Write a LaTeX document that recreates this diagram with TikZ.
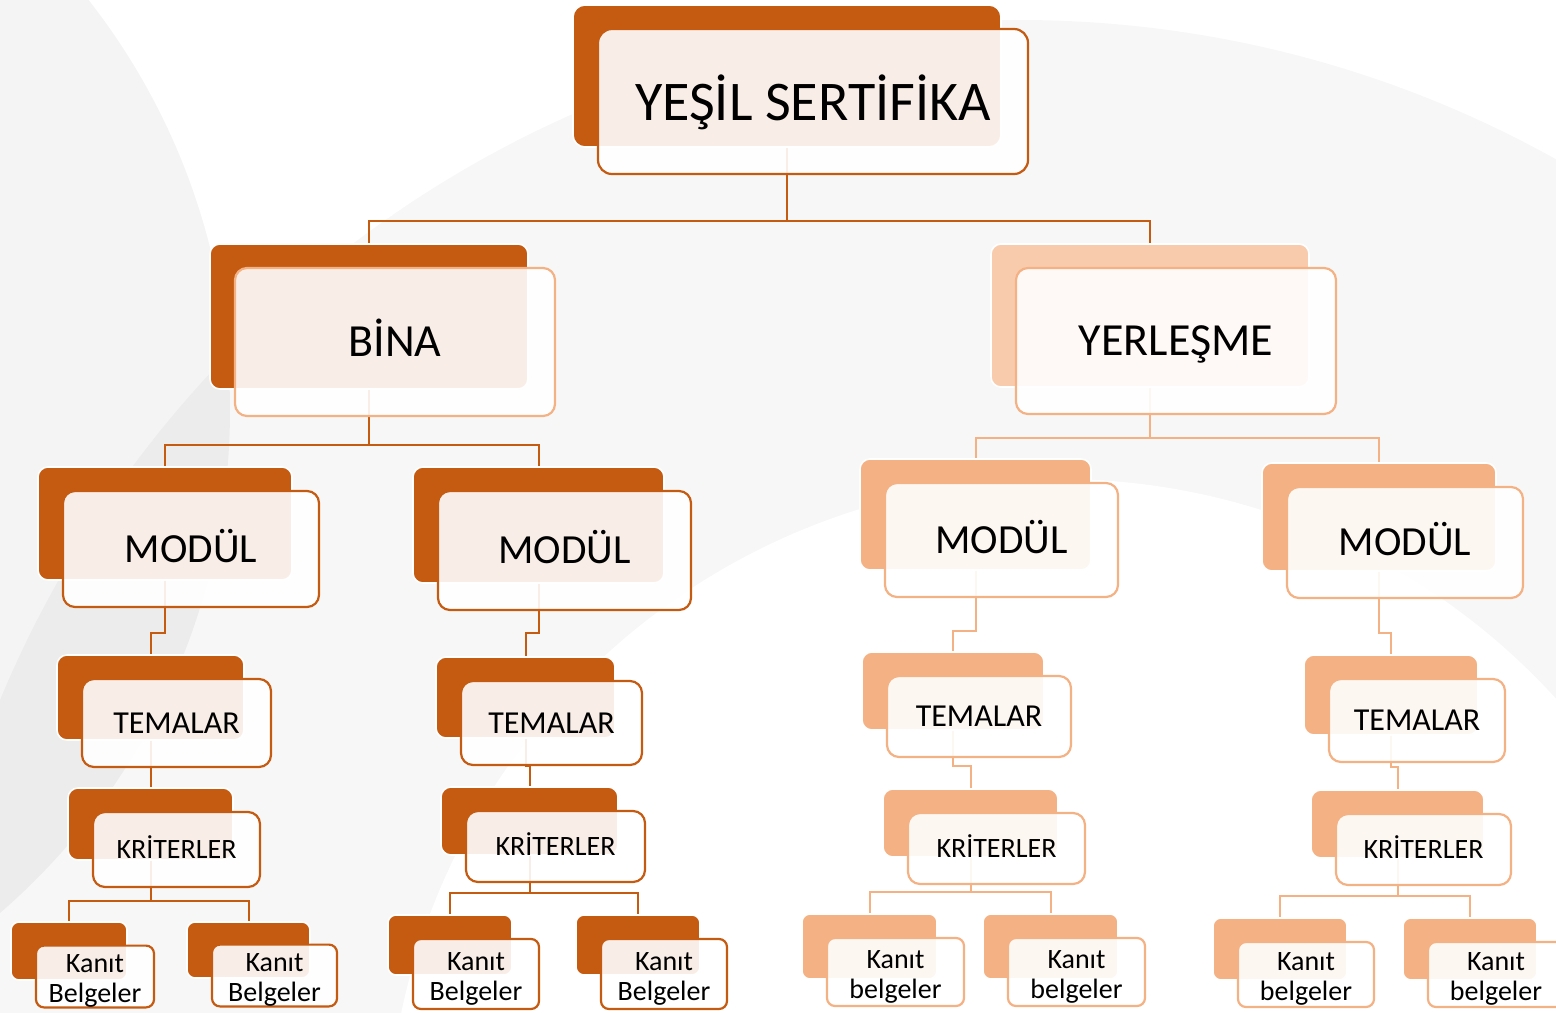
\documentclass[tikz,border=0pt]{standalone}
\usepackage{fontspec}
\setmainfont{Carlito}
\definecolor{koyu}{HTML}{C55A11}
\definecolor{acik}{HTML}{F4B183}
\definecolor{soluk}{HTML}{F8CBAD}
\tikzset{
  arkakutu/.style={rectangle, rounded corners=5pt, draw=white, line width=0.8pt, inner sep=0pt},
  onkutu/.style={rectangle, rounded corners=6pt, fill=white, fill opacity=0.9, text opacity=1,
                 line width=1.1pt, inner sep=0pt, align=center, text=black},
  conn/.style={line width=1pt},
  ff0/.style={font=\fontsize{28pt}{32pt}\selectfont, text height=18.6pt, text depth=0pt},
  ff1/.style={font=\fontsize{23pt}{27pt}\selectfont, text height=14.7pt, text depth=0pt},
  ff2/.style={font=\fontsize{20.7pt}{24pt}\selectfont, text height=13.2pt, text depth=0pt},
  ff3/.style={font=\fontsize{16pt}{19pt}\selectfont, text height=10.2pt, text depth=0pt},
  ff4/.style={font=\fontsize{14pt}{17pt}\selectfont, text height=9pt, text depth=0pt},
  ff5/.style={font=\fontsize{14pt}{15pt}\selectfont, rounded corners=4pt},
}
\newcommand{\ustpay}{\rule{0pt}{13.5pt}}
% back box: name, x1, y1, x2, y2, style
\newcommand{\arkaciz}[6]{%
  \node[arkakutu,#6,minimum width={(#4-#2)*0.5pt},minimum height={(#5-#3)*0.5pt}]
    (#1B) at ({(#2+#4)/2},{(#3+#5)/2}) {};}
% front box: name, x1, y1, x2, y2 (of the back box), style, text
\newcommand{\onciz}[7]{%
  \node[onkutu,minimum width={(#4-#2+2)*0.5pt},minimum height={(#5-#3+3)*0.5pt},#6]
    (#1F) at ({(#2+#4)/2+26},{(#3+#5)/2+25.5}) {#7};}
% elbow connector: parent, drop, child, colour
\newcommand{\baglan}[4]{\draw[conn,#4] (#1B.south) -- ++(0,#2) -| (#3B.north);}
\begin{document}
\begin{tikzpicture}[x=0.5pt,y=-0.5pt]
\useasboundingbox (0,0) rectangle (1556,1012);
\clip (0,0) rectangle (1556,1012);
% background
\fill[white] (0,0) rectangle (1556,1012);
\fill[black, opacity=0.043] (-435,410) circle[radius=665];
\fill[black, opacity=0.03] (1019,1123) circle[radius=1103];
\fill[white] (1059,1151) circle[radius=672];

% back boxes
\arkaciz{yesil}{573}{5}{1001}{147}{fill=koyu, rounded corners=6pt}
\arkaciz{bina}{210}{244}{528}{389}{fill=koyu}
\arkaciz{yerl}{991}{244}{1309}{387}{fill=soluk}
\arkaciz{ma}{38}{467}{292}{580}{fill=koyu}
\arkaciz{mb}{413}{467}{664}{583}{fill=koyu}
\arkaciz{mc}{860}{459}{1091}{570}{fill=acik}
\arkaciz{md}{1262}{463}{1496}{571}{fill=acik}
\arkaciz{ta}{57}{655}{244}{740}{fill=koyu}
\arkaciz{tb}{436}{657}{615}{738}{fill=koyu}
\arkaciz{tc}{862}{652}{1044}{730}{fill=acik}
\arkaciz{td}{1304}{655}{1478}{735}{fill=acik}
\arkaciz{ka}{68}{788}{233}{860}{fill=koyu}
\arkaciz{kb}{441}{787}{618}{855}{fill=koyu}
\arkaciz{kc}{883}{789}{1058}{857}{fill=acik}
\arkaciz{kd}{1311}{790}{1484}{858}{fill=acik}
\arkaciz{ea}{11}{922}{127}{980}{fill=koyu, rounded corners=4pt}
\arkaciz{eb}{187}{922}{310}{978}{fill=koyu, rounded corners=4pt}
\arkaciz{ec}{388}{915}{512}{975}{fill=koyu, rounded corners=4pt}
\arkaciz{ed}{576}{915}{700}{975}{fill=koyu, rounded corners=4pt}
\arkaciz{ee}{802}{914}{937}{979}{fill=acik, rounded corners=4pt}
\arkaciz{ef}{983}{914}{1118}{979}{fill=acik, rounded corners=4pt}
\arkaciz{eg}{1213}{918}{1347}{980}{fill=acik, rounded corners=4pt}
\arkaciz{eh}{1403}{918}{1537}{980}{fill=acik, rounded corners=4pt}

% connectors
\draw[conn,koyu] (yesilB.south) -- ++(0,73) coordinate (j0) -| (binaB.north);
\draw[conn,koyu] (j0) -| (yerlB.north);
\draw[conn,koyu] (binaB.south) -- ++(0,55) coordinate (j1) -| (maB.north);
\draw[conn,koyu] (j1) -| (mbB.north);
\draw[conn,acik] (yerlB.south) -- ++(0,50) coordinate (j2) -| (mcB.north);
\draw[conn,acik] (j2) -| (mdB.north);
\baglan{ma}{52}{ta}{koyu}
\baglan{mb}{49}{tb}{koyu}
\baglan{mc}{60}{tc}{acik}
\baglan{md}{61}{td}{acik}
\baglan{ta}{24}{ka}{koyu}
\baglan{tb}{27}{kb}{koyu}
\baglan{tc}{35}{kc}{acik}
\baglan{td}{31}{kd}{acik}
\draw[conn,koyu] (kaB.south) -- ++(0,40) coordinate (j3) -| (eaB.north);
\draw[conn,koyu] (j3) -| (ebB.north);
\draw[conn,koyu] (kbB.south) -- ++(0,37) coordinate (j4) -| (ecB.north);
\draw[conn,koyu] (j4) -| (edB.north);
\draw[conn,acik] (kcB.south) -- ++(0,34) coordinate (j5) -| (eeB.north);
\draw[conn,acik] (j5) -| (efB.north);
\draw[conn,acik] (kdB.south) -- ++(0,37) coordinate (j6) -| (egB.north);
\draw[conn,acik] (j6) -| (ehB.north);

% front boxes
\onciz{yesil}{573}{5}{1001}{147}{draw=koyu,ff0,rounded corners=7pt}{YEŞİL SERTİFİKA}
\onciz{bina}{210}{244}{528}{389}{draw=acik,ff1}{BİNA}
\onciz{yerl}{991}{244}{1309}{387}{draw=acik,ff1}{YERLEŞME}
\onciz{ma}{38}{467}{292}{580}{draw=koyu,ff2}{MODÜL}
\onciz{mb}{413}{467}{664}{583}{draw=koyu,ff2}{MODÜL}
\onciz{mc}{860}{459}{1091}{570}{draw=acik,ff2}{MODÜL}
\onciz{md}{1262}{463}{1496}{571}{draw=acik,ff2}{MODÜL}
\onciz{ta}{57}{655}{244}{740}{draw=koyu,ff3}{TEMALAR}
\onciz{tb}{436}{657}{615}{738}{draw=koyu,ff3}{TEMALAR}
\onciz{tc}{862}{652}{1044}{730}{draw=acik,ff3}{TEMALAR}
\onciz{td}{1304}{655}{1478}{735}{draw=acik,ff3}{TEMALAR}
\onciz{ka}{68}{788}{233}{860}{draw=koyu,ff4}{KRİTERLER}
\onciz{kb}{441}{787}{618}{855}{draw=koyu,ff4}{KRİTERLER}
\onciz{kc}{883}{789}{1058}{857}{draw=acik,ff4}{KRİTERLER}
\onciz{kd}{1311}{790}{1484}{858}{draw=acik,ff4}{KRİTERLER}
\onciz{ea}{11}{922}{127}{980}{draw=koyu,ff5}{\ustpay Kanıt\\Belgeler}
\onciz{eb}{187}{922}{310}{978}{draw=koyu,ff5}{\ustpay Kanıt\\Belgeler}
\onciz{ec}{388}{915}{512}{975}{draw=koyu,ff5,minimum height=35pt,yshift=-1.75pt}{\ustpay Kanıt\\Belgeler}
\onciz{ed}{576}{915}{700}{975}{draw=koyu,ff5,minimum height=35pt,yshift=-1.75pt}{\ustpay Kanıt\\Belgeler}
\onciz{ee}{802}{914}{937}{979}{draw=acik,ff5}{\ustpay Kanıt\\belgeler}
\onciz{ef}{983}{914}{1118}{979}{draw=acik,ff5}{\ustpay Kanıt\\belgeler}
\onciz{eg}{1213}{918}{1347}{980}{draw=acik,ff5}{\ustpay Kanıt\\belgeler}
\onciz{eh}{1403}{918}{1537}{980}{draw=acik,ff5}{\ustpay Kanıt\\belgeler}
\end{tikzpicture}
\end{document}
